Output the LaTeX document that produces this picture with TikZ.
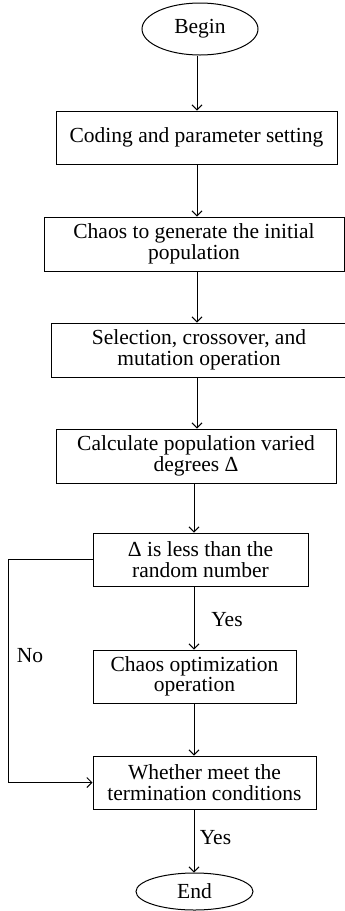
\documentclass[tikz,border=0pt]{standalone}
\usepackage{fontspec}
\setmainfont{Liberation Serif}
\usetikzlibrary{shapes.geometric,arrows.meta}

\begin{document}
\begin{tikzpicture}[x=1pt,y=-1pt]
\tikzset{every node/.style={font=\fontsize{21.5}{20.5}\selectfont}}
\tikzset{stepbox/.style={draw,rectangle,line width=1pt,align=center,inner sep=0pt,minimum height=53pt}}
\tikzset{terminal/.style={draw,ellipse,line width=1pt,inner sep=0pt}}
\tikzset{flow/.style={->,line width=1pt,>={Straight Barb[length=5pt,width=10pt]}}}

\useasboundingbox (0,0) rectangle (345,911);

\node[terminal,minimum width=116pt,minimum height=52pt] (begin) at (200,29) {Begin};
\node[stepbox,minimum width=281pt] (coding) at (196.5,137.5) {Coding and parameter setting};
\node[stepbox,minimum width=300pt,minimum height=54pt] (chaos) at (194,244) {Chaos to generate the initial\\population};
\node[stepbox,minimum width=296pt,minimum height=54pt] (select) at (199,350) {Selection, crossover, and\\mutation operation};
\node[stepbox,minimum width=280pt,minimum height=54pt] (degree) at (196,456) {Calculate population varied\\degrees Δ};
\node[stepbox,minimum width=215pt] (compare) at (200.5,559.5) {Δ is less than the\\random number};
\node[stepbox,minimum width=203pt] (optim) at (194.5,676.5) {Chaos optimization\\operation};
\node[stepbox,minimum width=223pt] (check) at (204.5,782.5) {Whether meet the\\termination conditions};
\node[terminal,minimum width=117pt,minimum height=37pt] (end) at (194.5,891.5) {End};

\coordinate (upper) at (197,0);
\coordinate (lower) at (194,0);
\coordinate (noturn) at (8,0);

\draw[flow] (begin.south -| upper) -- (coding.north -| upper);
\draw[flow] (coding.south -| upper) -- (chaos.north -| upper);
\draw[flow] (chaos.south -| upper) -- (select.north -| upper);
\draw[flow] (select.south -| upper) -- (degree.north -| upper);
\draw[flow] (degree.south -| lower) -- (compare.north -| lower);
\draw[flow] (compare.south -| lower) -- (optim.north -| lower);
\draw[flow] (optim.south -| lower) -- (check.north -| lower);
\draw[flow] (check.south -| lower) -- (end.north -| lower);
\draw[flow] (compare.west) -- (compare.west -| noturn) |- (check.west);

\node (yesa) at (227,620) {Yes};
\node (no) at (30,656) {No};
\node (yesb) at (215.5,838) {Yes};

\end{tikzpicture}
\end{document}
